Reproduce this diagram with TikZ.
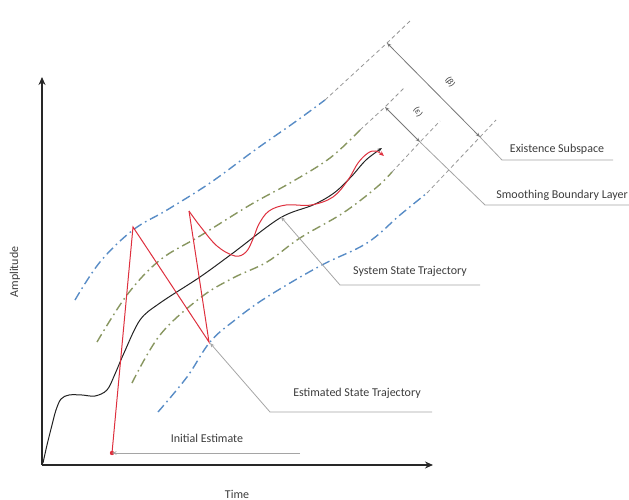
\documentclass[tikz,border=0pt]{standalone}
\usepackage{fontspec}
\setmainfont{Carlito}
\usetikzlibrary{arrows.meta}
\definecolor{ddblue}{RGB}{88,140,198}
\definecolor{ddgreen}{RGB}{136,150,96}
\definecolor{estred}{RGB}{222,48,62}
\definecolor{leadgrey}{RGB}{165,165,165}
\definecolor{dimgrey}{RGB}{120,120,120}
\definecolor{txtgrey}{RGB}{60,60,60}
\tikzset{
  axisline/.style={line width=1.7pt, draw={rgb,255:red,40;green,40;blue,40}, -{Stealth[length=8pt,width=7pt]}},
  ddline/.style={line width=1.4pt, dash pattern=on 9pt off 4pt on 1.6pt off 4pt},
  extline/.style={line width=0.8pt, draw={rgb,255:red,150;green,150;blue,150}, dash pattern=on 4pt off 3pt},
  syscurve/.style={line width=1pt, draw={rgb,255:red,35;green,35;blue,35}},
  estcurve/.style={line width=1pt, draw=estred},
  leader/.style={line width=0.8pt, draw=leadgrey},
  dimline/.style={line width=0.8pt, draw=dimgrey},
  lbl/.style={font=\fontsize{12}{14}\selectfont, text=txtgrey, inner sep=1pt},
  greek/.style={font=\fontsize{9}{10}\selectfont, text=txtgrey, inner sep=0pt, rotate=-55},
  tip/.style={-{Stealth[length=4.5pt,width=3.5pt]}},
}
\begin{document}
\begin{tikzpicture}[x=1pt,y=-1pt]
\useasboundingbox (0,0) rectangle (629,500);
% axes
\coordinate (O) at (42,465);
\coordinate (Ytop) at (42,77);
\coordinate (Xend) at (433,465);
\draw[axisline] (O) -- (Ytop);
\draw[axisline] (O) -- (Xend);
\node[lbl, rotate=90] (amp) at (15,272) {Amplitude};
\node[lbl] (time) at (237,494) {Time};

% boundary curves
\draw[ddline, draw=ddblue] plot[smooth, tension=0.6] coordinates {(75,300) (100,262) (133,230) (167,210) (210,183) (255,150) (295,122) (325,100)};
\draw[extline] (325,100) -- (387,43) -- (410,21);
\draw[ddline, draw=ddgreen] plot[smooth, tension=0.6] coordinates {(97,342) (127,295) (160,260) (200,236) (250,205) (290,183) (330,158) (360,130)};
\draw[extline] (360,130) -- (385,107) -- (405,87);
\draw[ddline, draw=ddgreen] plot[smooth, tension=0.6] coordinates {(132,383) (160,335) (200,298) (233,278) (267,262) (300,238) (343,213) (377,187) (392,172)};
\draw[extline] (392,172) -- (420,142) -- (440,121);
\draw[ddline, draw=ddblue] plot[smooth, tension=0.6] coordinates {(158,412) (187,377) (210,342) (235,320) (267,297) (320,266) (367,243) (400,215) (427,193)};
\draw[extline] (427,193) -- (480,137) -- (496,120);

% system state trajectory
\draw[syscurve, tip] plot[smooth, tension=0.55] coordinates {(43,463) (47,445) (52,425) (56,410) (61,399) (69,395) (82,395) (95,396) (107,390) (115,374) (124,353) (140,320) (160,303) (200,277) (233,253) (280,218) (313,205) (334,193) (351,177) (366,160) (382,148)};

% estimated state trajectory
\coordinate (ie) at (112,453);
\coordinate (pk1) at (133,227);
\coordinate (vl1) at (209,342);
\coordinate (pk2) at (189,211);
\draw[estcurve, line join=miter] (ie) -- (pk1) -- (vl1) -- (pk2);
\draw[estcurve, -{Stealth[length=5pt,width=4pt]}] plot[smooth, tension=0.6] coordinates {(pk2) (200,226) (217,246) (235,256) (246,252) (253,239) (259,224) (269,211) (286,205) (311,205) (333,197) (348,180) (358,163) (368,153) (376,151) (384,156)};
\fill[estred] (ie) circle (2.2pt);

% dimension arrows
\coordinate (b1) at (387,43);
\coordinate (b2) at (480,137);
\coordinate (b3) at (502,160);
\coordinate (b4) at (613,160);
\draw[dimline, {Stealth[length=4.5pt,width=3.5pt]}-{Stealth[length=4.5pt,width=3.5pt]}] (b1) -- (b2);
\draw[leader] (b2) -- (b3) -- (b4);
\node[greek] (beta) at (450,82) {(β)};
\node[lbl] (exist) at (557,149) {Existence Subspace};

\coordinate (e1) at (385,107);
\coordinate (e2) at (420,142);
\coordinate (e3) at (485,205);
\coordinate (e4) at (629,205);
\draw[dimline, {Stealth[length=4.5pt,width=3.5pt]}-{Stealth[length=4.5pt,width=3.5pt]}] (e1) -- (e2);
\draw[leader] (e2) -- (e3) -- (e4);
\node[greek] (eps) at (418,112) {(ε)};
\node[lbl, anchor=east] (smooth) at (629,195) {Smoothing Boundary Layer};

% leaders
\coordinate (sst) at (281,217);
\coordinate (sse) at (340,285);
\coordinate (ssh) at (480,285);
\draw[leader, tip] (ssh) -- (sse) -- (sst);
\node[lbl] (sys) at (410,271) {System State Trajectory};

\coordinate (est) at (210,343);
\coordinate (ese) at (270,412);
\coordinate (esh) at (432,412);
\draw[leader, tip] (esh) -- (ese) -- (est);
\node[lbl] (estl) at (357,393) {Estimated State Trajectory};

\coordinate (ieh) at (300,453);
\draw[leader, tip] (ieh) -- (ie);
\node[lbl] (init) at (207,438) {Initial Estimate};
\end{tikzpicture}
\end{document}
